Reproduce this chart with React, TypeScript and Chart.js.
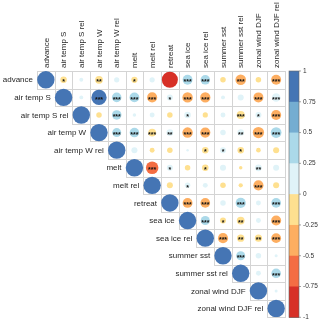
import React, { useEffect, useRef } from "react";
import { Chart, registerables } from "chart.js";

Chart.register(...registerables);

const variables = [
  "advance", "air temp S", "air temp S rel", "air temp W", "air temp W rel",
  "melt", "melt rel", "retreat", "sea ice", "sea ice rel",
  "summer sst", "summer sst rel", "zonal wind DJF", "zonal wind DJF rel",
];

// Upper-triangle correlations, each row starts at the diagonal
const corrAdvance = [1, -0.14, 0.05, -0.2, 0.09, -0.13, 0.09, -0.85, 0.32, 0.3, -0.1, -0.37, -0.1, -0.33];
const corrAirTempS = [1, 0.05, 0.77, 0.3, 0.32, -0.34, 0.12, -0.36, -0.35, 0.05, 0.12, -0.33, 0.24];
const corrAirTempSRel = [1, -0.1, 0.3, 0.04, 0.08, -0.1, 0.14, -0.09, 0.08, -0.21, 0.12, -0.34];
const corrAirTempW = [1, 0.27, 0.3, -0.2, 0.15, -0.36, -0.34, 0.1, 0.14, -0.42, 0.38];
const corrAirTempWRel = [1, 0.12, -0.08, -0.1, 0.02, -0.14, 0.12, -0.14, -0.07, -0.12];
const corrMelt = [1, -0.52, 0.12, -0.1, -0.14, 0.12, -0.04, 0.15, 0.12];
const corrMeltRel = [1, -0.12, 0.1, 0.08, -0.1, -0.06, -0.34, -0.12];
const corrRetreat = [1, -0.32, -0.31, 0.1, 0.34, 0.08, 0.31];
const corrSeaIce = [1, 0.27, -0.12, -0.2, 0.08, -0.33];
const corrSeaIceRel = [1, -0.34, -0.18, -0.17, -0.32];
const corrSummerSst = [1, 0.27, 0.1, 0.03];
const corrSummerSstRel = [1, 0.08, 0.3];
const corrZonalWind = [1, 0.03];
const corrZonalWindRel = [1];

// Significance stars (number of '*'), same layout
const sigAdvance = [0, 1, 0, 2, 0, 1, 0, 0, 3, 3, 0, 3, 0, 3];
const sigAirTempS = [0, 0, 3, 3, 3, 3, 1, 3, 3, 0, 0, 3, 3];
const sigAirTempSRel = [0, 0, 3, 0, 0, 0, 1, 0, 0, 3, 1, 3];
const sigAirTempW = [0, 3, 3, 3, 2, 3, 3, 0, 2, 3, 3];
const sigAirTempWRel = [0, 0, 0, 0, 0, 1, 1, 1, 0, 0];
const sigMelt = [0, 3, 1, 0, 1, 0, 0, 2, 0];
const sigMeltRel = [0, 0, 1, 0, 0, 0, 3, 0];
const sigRetreat = [0, 3, 3, 0, 3, 0, 3];
const sigSeaIce = [0, 3, 1, 2, 0, 3];
const sigSeaIceRel = [0, 3, 2, 2, 3];
const sigSummerSst = [0, 3, 0, 0];
const sigSummerSstRel = [0, 0, 3];
const sigZonalWind = [0, 0];
const sigZonalWindRel = [0];

const corrRows = [
  corrAdvance, corrAirTempS, corrAirTempSRel, corrAirTempW, corrAirTempWRel, corrMelt, corrMeltRel,
  corrRetreat, corrSeaIce, corrSeaIceRel, corrSummerSst, corrSummerSstRel, corrZonalWind, corrZonalWindRel,
];
const sigRows = [
  sigAdvance, sigAirTempS, sigAirTempSRel, sigAirTempW, sigAirTempWRel, sigMelt, sigMeltRel,
  sigRetreat, sigSeaIce, sigSeaIceRel, sigSummerSst, sigSummerSstRel, sigZonalWind, sigZonalWindRel,
];

const colorBreaks = ["#d73027", "#f46d43", "#fdae61", "#fee090", "#e0f3f8", "#abd9e9", "#74add1", "#4575b4"];
const legendTicks = [1, 0.75, 0.5, 0.25, 0, -0.25, -0.5, -0.75, -1];

const FONT = "'Liberation Sans', Arial, sans-serif";

function colorFor(v: number): string {
  const idx = Math.max(0, Math.min(7, Math.floor((v + 1) / 0.25)));
  return colorBreaks[idx];
}

type Cell = { x: number; y: number; v: number; s: number };

function buildCells(): Cell[] {
  const out: Cell[] = [];
  corrRows.forEach((row, r) => {
    row.forEach((v, k) => {
      out.push({ x: r + k, y: r, v, s: sigRows[r][k] });
    });
  });
  return out;
}

const corrDecor = {
  id: "corrDecor",
  beforeDatasetsDraw(chart: any) {
    const ctx = chart.ctx;
    const xs = chart.scales.x;
    const ys = chart.scales.y;
    ctx.save();
    ctx.strokeStyle = "#d4d4d4";
    ctx.lineWidth = 1;
    const n = variables.length;
    for (let r = 0; r < n; r++) {
      for (let c = r; c < n; c++) {
        const l = Math.round(xs.getPixelForValue(c - 0.5)) + 0.5;
        const rr = Math.round(xs.getPixelForValue(c + 0.5)) + 0.5;
        const t = Math.round(ys.getPixelForValue(r - 0.5)) + 0.5;
        const b = Math.round(ys.getPixelForValue(r + 0.5)) + 0.5;
        ctx.strokeRect(l, t, rr - l, b - t);
      }
    }
    ctx.restore();
  },
  afterDatasetsDraw(chart: any) {
    const ctx = chart.ctx;
    const xs = chart.scales.x;
    const ys = chart.scales.y;
    const area = chart.chartArea;
    const cells: Cell[] = chart.data.datasets[0].data;
    ctx.save();
    // significance stars
    ctx.fillStyle = "#111";
    ctx.font = `bold 7px ${FONT}`;
    ctx.textAlign = "center";
    ctx.textBaseline = "alphabetic";
    cells.forEach((c) => {
      if (c.s > 0) {
        const px = xs.getPixelForValue(c.x);
        const py = ys.getPixelForValue(c.y);
        ctx.fillText("*".repeat(c.s), px, py + 4.2);
      }
    });
    // labels
    ctx.fillStyle = "#262626";
    ctx.font = `8px ${FONT}`;
    variables.forEach((name, i) => {
      const cy = ys.getPixelForValue(i);
      const left = xs.getPixelForValue(i - 0.5);
      ctx.textAlign = "right";
      ctx.textBaseline = "middle";
      ctx.fillText(name, left - 4, cy + 0.5);
      const cx = xs.getPixelForValue(i);
      ctx.save();
      ctx.translate(cx + 0.5, area.top - 3);
      ctx.rotate(-Math.PI / 2);
      ctx.textAlign = "left";
      ctx.textBaseline = "middle";
      ctx.fillText(name, 0, 0);
      ctx.restore();
    });
    // color bar
    const bx = area.right + 4;
    const bw = 10;
    const top = area.top;
    const bottom = area.bottom;
    const h = (bottom - top) / colorBreaks.length;
    for (let i = 0; i < colorBreaks.length; i++) {
      ctx.fillStyle = colorBreaks[colorBreaks.length - 1 - i];
      ctx.fillRect(bx, top + i * h, bw, h + 0.5);
    }
    ctx.strokeStyle = "#666";
    ctx.lineWidth = 0.6;
    ctx.strokeRect(bx, top, bw, bottom - top);
    ctx.fillStyle = "#333";
    ctx.font = `6.5px ${FONT}`;
    ctx.textAlign = "left";
    ctx.textBaseline = "middle";
    legendTicks.forEach((t) => {
      const y = top + ((1 - t) / 2) * (bottom - top);
      ctx.beginPath();
      ctx.moveTo(bx + bw, y);
      ctx.lineTo(bx + bw + 2, y);
      ctx.stroke();
      ctx.fillText(String(t), bx + bw + 4, y);
    });
    ctx.restore();
  },
};

export default function App() {
  const canvasRef = useRef<HTMLCanvasElement | null>(null);

  useEffect(() => {
    if (!canvasRef.current) return;
    const cells = buildCells();
    const chart = new Chart(canvasRef.current, {
      type: "scatter",
      data: {
        datasets: [
          {
            data: cells as any,
            pointRadius: (ctx: any) => Math.sqrt(Math.abs(ctx.raw?.v ?? 0)) * 8.7,
            pointHoverRadius: (ctx: any) => Math.sqrt(Math.abs(ctx.raw?.v ?? 0)) * 8.7,
            pointBackgroundColor: (ctx: any) => colorFor(ctx.raw?.v ?? 0),
            pointBorderColor: (ctx: any) => colorFor(ctx.raw?.v ?? 0),
            pointBorderWidth: 0,
          },
        ],
      },
      options: {
        animation: false,
        responsive: false,
        events: [],
        layout: { padding: { left: 37, right: 35, top: 71, bottom: 7 } },
        plugins: { legend: { display: false }, tooltip: { enabled: false } },
        scales: {
          x: { type: "linear", min: -0.5, max: 13.5, display: false },
          y: { type: "linear", min: -0.5, max: 13.5, reverse: true, display: false },
        },
      },
      plugins: [corrDecor],
    });
    return () => chart.destroy();
  }, []);

  return (
    <div style={{ position: "fixed", left: 0, top: 0, width: 320, height: 326, background: "#fff" }}>
      <canvas ref={canvasRef} width={320} height={326} />
    </div>
  );
}
